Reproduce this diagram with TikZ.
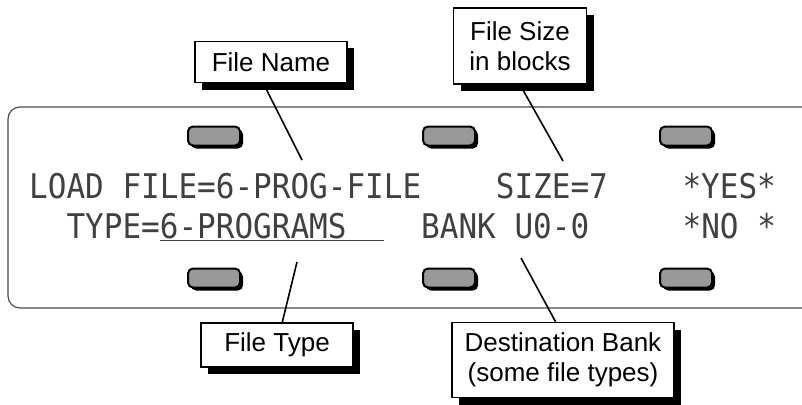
\documentclass[tikz,border=0pt]{standalone}
\usepackage{fontspec}
\setmainfont{Liberation Sans}
\newfontfamily\lcdfont{DejaVu Sans Mono}[FakeStretch=0.912]
\usepackage{tikz}
\usetikzlibrary{shadows, positioning}
\tikzstyle{callout} = [rectangle, draw=black, line width=1.5pt, fill=white, align=center, inner sep=0pt, font=\fontsize{26}{30}\selectfont, drop shadow={shadow xshift=7pt, shadow yshift=-7pt, opacity=1, fill=black}]
\tikzstyle{button} = [rectangle, rounded corners=5pt, draw=black, line width=2pt, fill=black!40, minimum width=52pt, minimum height=19pt, inner sep=0pt, drop shadow={shadow xshift=3pt, shadow yshift=-3pt, opacity=1, fill=black}]
\tikzstyle{lcd} = [anchor=base west, inner sep=0pt, font=\lcdfont\fontsize{34}{34}\selectfont, text=black!75]
\tikzstyle{panel} = [draw=black!70, line width=1.2pt, rounded corners=12pt]
\tikzstyle{pointer} = [line width=1.6pt]

\begin{document}
\begin{tikzpicture}[x=1pt, y=-1pt]
        \useasboundingbox (0,0) rectangle (802,404);
        \draw [panel] (8,107) rectangle (840,308);

        % soft keys above and below the display
        \foreach \x/\n in {214/a, 449/b, 686/c} {
            \node (top\n) [button] at (\x,136) {};
            \node (bot\n) [button] at (\x,278) {};
        }

        \node (line1) [lcd] at (29,198) {LOAD FILE=6-PROG-FILE~~~~SIZE=7~~~~*YES*};
        \node (line2) [lcd] at (29,238) {~~TYPE=\underline{6-PROGRAMS~~}~~BANK U0-0~~~~~*NO~*};

        \node (fname) [callout, minimum width=152pt, minimum height=41pt] at (271,62) {File Name};
        \node (fsize) [callout, minimum width=133pt, minimum height=76pt] at (520,46) {File Size\\in blocks};
        \node (ftype) [callout, minimum width=152pt, minimum height=44pt] at (277,345) {File Type};
        \node (fdest) [callout, minimum width=222pt, minimum height=75pt] at (563,360) {Destination Bank\\(some file types)};

        \coordinate (nameend) at (302,160);
        \coordinate (sizeend) at (563,161);
        \coordinate (typeend) at (297,262);
        \coordinate (bankend) at (521,258);

        \draw [pointer] (fname.250) -- (nameend);
        \draw [pointer] (fsize.south) -- (sizeend);
        \draw [pointer] (ftype.77) -- (typeend);
        \draw [pointer] (fdest.101) -- (bankend);
    \end{tikzpicture}
\end{document}
